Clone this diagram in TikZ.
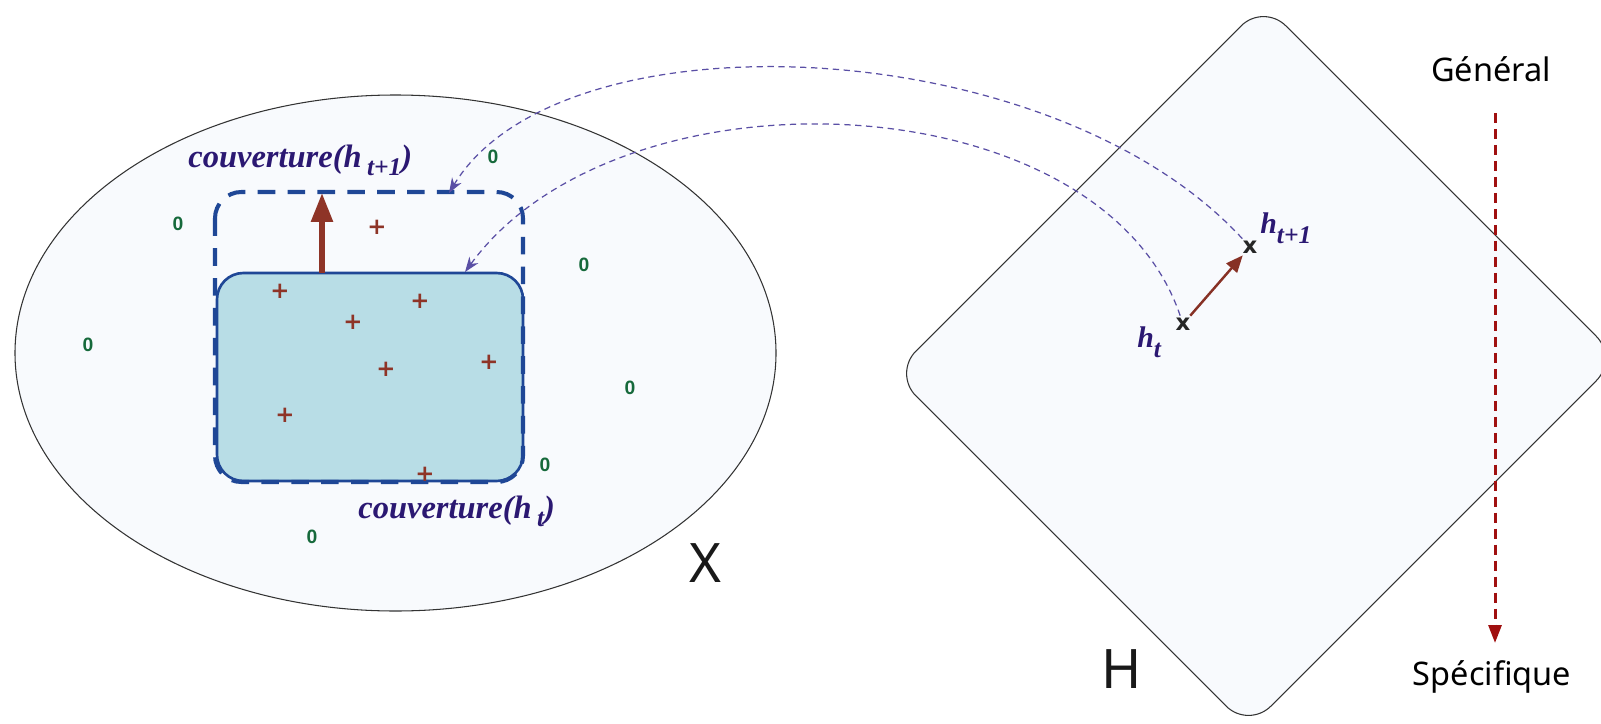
\documentclass[tikz,border=0pt]{standalone}
\usepackage{fontspec}
\setmainfont{Liberation Serif}
\setsansfont{Noto Sans}
\newfontfamily\markfont{Liberation Sans}
\newfontfamily\heavyfont{DejaVu Sans}
\usetikzlibrary{arrows.meta,positioning}

\definecolor{spacefill}{HTML}{F8FAFD}
\definecolor{covblue}{HTML}{1F4796}
\definecolor{covfill}{HTML}{B8DDE6}
\definecolor{posred}{HTML}{8E3427}
\definecolor{neggreen}{HTML}{16693B}
\definecolor{hypink}{HTML}{2B1872}
\definecolor{linkpurple}{HTML}{5A4FA5}
\definecolor{orderred}{HTML}{A01010}

\newcommand{\lowsub}[2][5pt]{\raisebox{-#1}{\fontsize{14.5}{15}\selectfont #2}}

\begin{document}
\begin{tikzpicture}[x=0.02cm, y=-0.02cm,
  spacearea/.style={draw=black!80, line width=0.6pt, fill=spacefill},
  posmark/.style={text=posred, font=\heavyfont\bfseries\fontsize{13}{13}\selectfont, inner sep=0pt},
  negmark/.style={text=neggreen, font=\markfont\bfseries\fontsize{11}{11}\selectfont, inner sep=0pt},
  coverlabel/.style={text=hypink, font=\bfseries\itshape\fontsize{18.5}{20}\selectfont, inner sep=0pt},
  hyplabel/.style={text=hypink, font=\bfseries\itshape\fontsize{17}{18}\selectfont, inner sep=0pt},
  crossmark/.style={font=\heavyfont\bfseries\fontsize{13}{13}\selectfont, text=black!85, inner sep=1pt},
  setlabel/.style={font=\sffamily\fontsize{31}{31}\selectfont, text=black!90, inner sep=0pt},
  orderlabel/.style={font=\sffamily\fontsize{18.5}{20}\selectfont, inner sep=0pt},
  linkarrow/.style={draw=linkpurple, line width=0.7pt, dash pattern=on 3.6pt off 2.6pt, -{Stealth[length=3mm, width=2.2mm]}},
  growarrow/.style={draw=posred, line width=3.2pt, -{Triangle[length=5.8mm, width=4.2mm]}}
]
\useasboundingbox (0,0) rectangle (1601,723);
\clip (0,0) rectangle (1601,723);

% les deux espaces
\draw[spacearea] (395.5,353) ellipse [x radius=380.5, y radius=258];
\draw[spacearea, rounded corners=18] (1263.5,3.5) -- (1618.5,358.5) -- (1248.5,728.5) -- (893.5,373.5) -- cycle;

% couvertures
\draw[draw=covblue, line width=1.5pt, fill=covfill, rounded corners=15] (217,273) rectangle (523,481);
\draw[draw=covblue, line width=2.3pt, dash pattern=on 10pt off 7pt, rounded corners=15] (215,192) rectangle (523,482);
\coordinate (in1) at (449,193);
\coordinate (in0) at (465,272);
\coordinate (base) at (322,273);
\coordinate (top) at (322,193);
\draw[growarrow] (base) -- (top);

\node[coverlabel, anchor=base west] (covt1) at (188,167) {couverture(h\,\lowsub{t+1})};
\node[coverlabel, anchor=base west] (covt) at (358,518) {couverture(h\,\lowsub{t})};

\foreach \px/\py in {377/227, 280/291, 420/301, 353/322, 386/369, 489/362, 285/415, 425/474}
  \node[posmark] at (\px,\py) {+};
\foreach \nx/\ny in {493/157, 178/224, 584/265, 88/345, 630/388, 545/465, 312/537}
  \node[negmark] at (\nx,\ny) {0};

% hypotheses
\node[crossmark] (ht) at (1183,324) {x};
\node[crossmark] (ht1) at (1250,247) {x};
\node[hyplabel, anchor=base west] (lht) at (1137,347) {h\lowsub[6pt]{t}};
\node[hyplabel, anchor=base west] (lht1) at (1260,233) {h\lowsub[6pt]{t+1}};
\draw[draw=posred!95!black, line width=1.4pt, -{Triangle[length=3.4mm, width=2.8mm]}] (ht) -- (ht1);

\draw[linkarrow] (ht1) .. controls (1050,30) and (560,10) .. (in1);
\draw[linkarrow] (ht) .. controls (1100,80) and (620,60) .. (in0);

\node[setlabel, anchor=base] (xset) at (705,582) {X};
\node[setlabel, anchor=base] (hset) at (1122,688) {H};

% ordre
\node[orderlabel, anchor=base] (gen) at (1491,82) {Général};
\node[orderlabel, anchor=base] (spec) at (1492,685) {Spécifique};
\coordinate (ordtop) at (1495,113);
\coordinate (ordbot) at (1495,643);
\draw[draw=orderred, line width=1.7pt, dash pattern=on 5.7pt off 3.4pt, -{Triangle[length=3.6mm, width=2.6mm]}] (ordtop) -- (ordbot);
\end{tikzpicture}
\end{document}
